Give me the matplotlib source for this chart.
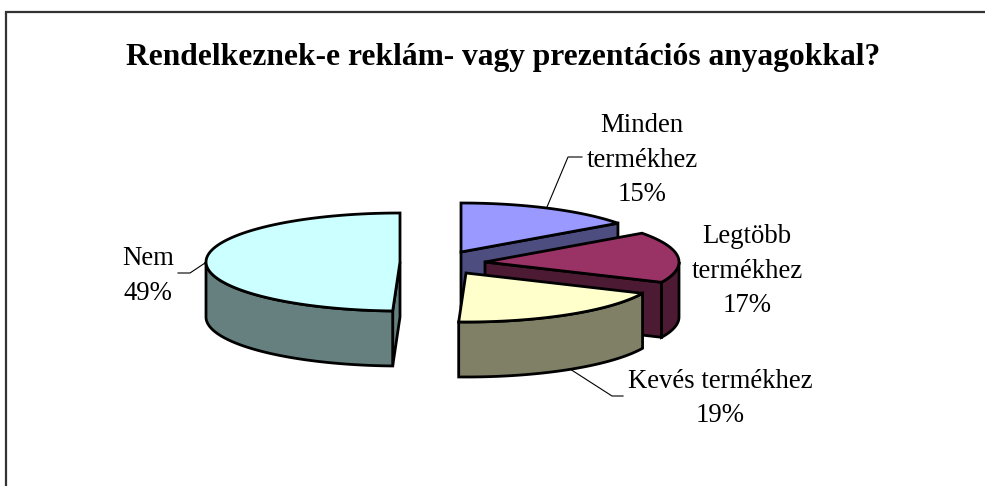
#!/usr/bin/env python3

# Exploded 3D-look pie chart, drawn with polygons on a pixel-sized axes.

import numpy as np
from matplotlib import pyplot as plt
from matplotlib.patches import Polygon

plt.rcParams["font.family"] = ["Liberation Serif", "DejaVu Serif"]

title = "Rendelkeznek-e reklám- vagy prezentációs anyagokkal?"
categories = ["Minden\ntermékhez", "Legtöbb\ntermékhez", "Kevés termékhez", "Nem"]
values = [15.0, 16.8, 18.8, 49.4]

top_colors = ["#9999FF", "#993366", "#FFFFCC", "#CCFFFF"]
side_colors = ["#4D4D80", "#4D1A33", "#808066", "#668080"]

# slice centres after exploding, in pixels
centers = [(461, 252), (485, 262), (466, 273), (400, 262)]
label_pos = [(642, 160), (747, 271), (720, 398.5), (148, 276)]
leaders = [
    [(547, 207), (568, 157), (582, 157)],
    None,
    [(570, 369), (612, 396), (623, 396)],
    [(178, 273), (190, 273), (205, 263)],
]
draw_order = [0, 1, 3, 2]

rx = 194
ry = 49
depth = 55
edge = 2.0


def rim(cx, cy, a0, a1, drop=0):
    t = np.radians(np.linspace(a0, a1, 80))
    return np.column_stack([cx + rx * np.sin(t), cy - ry * np.cos(t) + drop])


def spoke_face(cx, cy, a):
    end = rim(cx, cy, a, a)[0]
    return [(cx, cy), end, end + (0, depth), (cx, cy + depth)]


fig = plt.figure(figsize=(9.85, 4.86), dpi=100)
ax = fig.add_axes([0, 0, 1, 1])
ax.set_xlim(0, 985)
ax.set_ylim(486, 0)
ax.axis("off")

# outer frame, open at the right and at the bottom
ax.plot([5.5, 5.5, 985], [486, 12.5, 12.5], color="#333333", lw=1.6, solid_joinstyle="miter")

ends = np.cumsum(values) / np.sum(values) * 360
starts = np.concatenate([[0], ends[:-1]])

for i in draw_order:
    cx, cy = centers[i]
    a0, a1 = starts[i], ends[i]

    # straight cut faces that turn towards the viewer
    for a, show in ((a0, np.sin(np.radians(a0)) < 0), (a1, np.sin(np.radians(a1)) > 0)):
        if show:
            ax.add_patch(Polygon(spoke_face(cx, cy, a), fc=side_colors[i], ec="black", lw=edge))

    # curved wall, only on the front half
    w0, w1 = max(a0, 90), min(a1, 270)
    if w0 < w1:
        upper = rim(cx, cy, w0, w1)
        lower = rim(cx, cy, w1, w0, depth)
        ax.add_patch(Polygon(np.vstack([upper, lower]), fc=side_colors[i], ec="black", lw=edge))

    top = np.vstack([[(cx, cy)], rim(cx, cy, a0, a1)])
    ax.add_patch(Polygon(top, fc=top_colors[i], ec="black", lw=edge, joinstyle="miter"))

for cat, val, pos, line in zip(categories, values, label_pos, leaders):
    ax.text(pos[0], pos[1], "{0}\n{1:.0f}%".format(cat, val), fontsize=19.3, ha="center", va="center",
            ma="center", linespacing=1.5, color="black")
    if line:
        ax.plot(*zip(*line), color="black", lw=0.8)

ax.text(503, 58, title, fontsize=22.7, fontweight="bold", ha="center", va="center", color="black")

plt.savefig("out.png", dpi=100)
